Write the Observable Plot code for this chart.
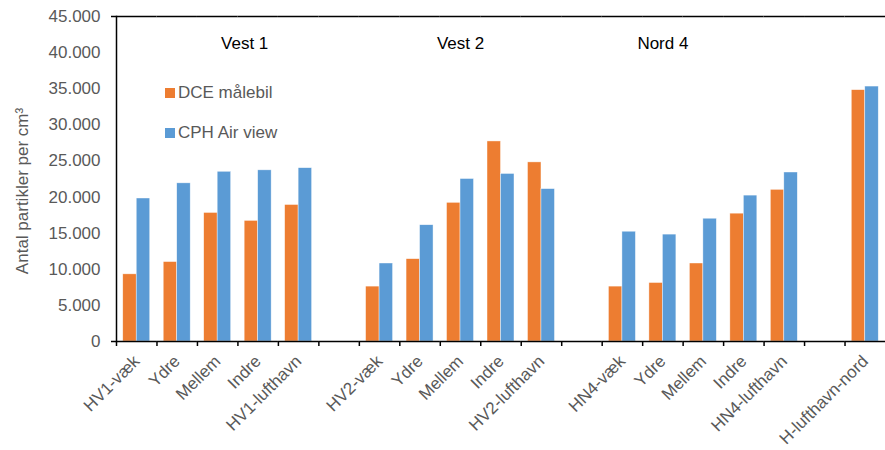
<!DOCTYPE html>
<html>
<head>
<meta charset="utf-8">
<script src="https://cdn.jsdelivr.net/npm/d3@7"></script>
<script src="https://cdn.jsdelivr.net/npm/@observablehq/plot@0.6"></script>
<style>
  html, body { margin: 0; padding: 0; background: white; }
  #wrap { position: relative; width: 885px; height: 450px; font-family: 'Liberation Sans', Arial, sans-serif; }
  .leg { position: absolute; font-size: 17px; line-height: 20px; color: #595959; white-space: nowrap; }
  .sw { position: absolute; width: 10px; height: 10px; }
</style>
</head>
<body>
<div id="wrap"></div>
<script>
const categories = ["HV1-væk","Ydre","Mellem","Indre","HV1-lufthavn","",
                    "HV2-væk","Ydre","Mellem","Indre","HV2-lufthavn","",
                    "HN4-væk","Ydre","Mellem","Indre","HN4-lufthavn","",
                    "H-lufthavn-nord"];
const dceValues = [9300,11000,17800,16700,18900,null,
                   7600,11400,19200,27700,24800,null,
                   7600,8100,10800,17700,21000,null,
                   34800];
const cphValues = [19800,21900,23500,23700,24000,null,
                   10800,16100,22500,23200,21100,null,
                   15200,14800,17000,20200,23400,null,
                   35300];
const seriesNames = ["DCE målebil","CPH Air view"];
const seriesColors = ["#ED7D31","#5B9BD5"];
const yTicks = [0,5000,10000,15000,20000,25000,30000,35000,40000,45000];
const yFrame = [0, 45000];
const yTitle = "Antal partikler per cm³";
const groupNames = ["Vest 1","Vest 2","Nord 4"];
const groupAnchorIndex = [2, 8, 13];
const groupLabelY = 41300;

const keys = categories.map((c, i) => i);
const rows = [];
keys.forEach(i => {
  if (dceValues[i] != null) rows.push({k: i, series: seriesNames[0], value: dceValues[i]});
  if (cphValues[i] != null) rows.push({k: i, series: seriesNames[1], value: cphValues[i]});
});
const frameRows = [];
keys.forEach(i => yFrame.forEach(y => frameRows.push({k: i, y})));
const groups = groupNames.map((g, j) => ({k: groupAnchorIndex[j], label: g, y: groupLabelY}));

const W = 885, H = 450, ML = 116, MR = 0;
const step = (W - ML - MR) / categories.length;
const fmt = d => d === 0 ? "0" : d3.format(",")(d).replace(/,/g, ".");

const chart = Plot.plot({
  width: W, height: H,
  marginTop: 16, marginBottom: 109, marginLeft: ML, marginRight: MR,
  style: {fontFamily: "'Liberation Sans', Arial, sans-serif", fontSize: "17px", color: "#595959", background: "white"},
  fx: {domain: keys, padding: 0, round: false, label: null},
  x: {domain: seriesNames, paddingInner: 0, paddingOuter: 0.5, round: false, axis: null},
  y: {domain: [0, 45000], axis: null},
  color: {domain: seriesNames, range: seriesColors},
  marks: [
    Plot.barY(rows, {fx: "k", x: "series", y: "value", fill: "series", stroke: "white", strokeWidth: 0.6, strokeOpacity: 0.7}),
    Plot.ruleY(frameRows, {fx: "k", y: "y", stroke: "black", strokeWidth: 1.5}),
    Plot.frame({anchor: "left", facetAnchor: "left", stroke: "black", strokeWidth: 1.5}),
    Plot.axisY({ticks: yTicks, tickSize: 0, tickPadding: 16, tickFormat: fmt, fontSize: 17, label: null}),
    Plot.text([yTitle], {text: d => d, frameAnchor: "left", textAnchor: "middle", rotate: -90, dx: -94, dy: 12,
                         facetAnchor: "left", fill: "#595959", fontSize: 17}),
    Plot.axisY({ticks: yFrame, tickSize: 5, text: null, stroke: "black", strokeWidth: 1.5, label: null}),
    Plot.axisFx({anchor: "bottom", tickSize: 0, tickPadding: 17, tickRotate: -45, fontSize: 17,
                 tickFormat: i => categories[i], label: null}),
    Plot.axisFx({anchor: "bottom", tickSize: 5, text: null, dx: -step / 2, stroke: "black", strokeWidth: 1.5, label: null}),
    Plot.text(groups.slice(0, 1), {fx: "k", y: "y", text: "label", dx: 27, fill: "black", fontSize: 17}),
    Plot.text(groups.slice(1), {fx: "k", y: "y", text: "label", fill: "black", fontSize: 17})
  ]
});

const wrap = document.getElementById("wrap");
wrap.appendChild(chart);
const legendTops = [88, 128];
seriesNames.forEach((s, j) => {
  const sw = document.createElement("div");
  sw.className = "sw";
  sw.style.left = "165px";
  sw.style.top = legendTops[j] + "px";
  sw.style.background = seriesColors[j];
  wrap.appendChild(sw);
  const t = document.createElement("div");
  t.className = "leg";
  t.style.left = "178px";
  t.style.top = (legendTops[j] - 5) + "px";
  t.textContent = s;
  wrap.appendChild(t);
});
</script>
</body>
</html>
